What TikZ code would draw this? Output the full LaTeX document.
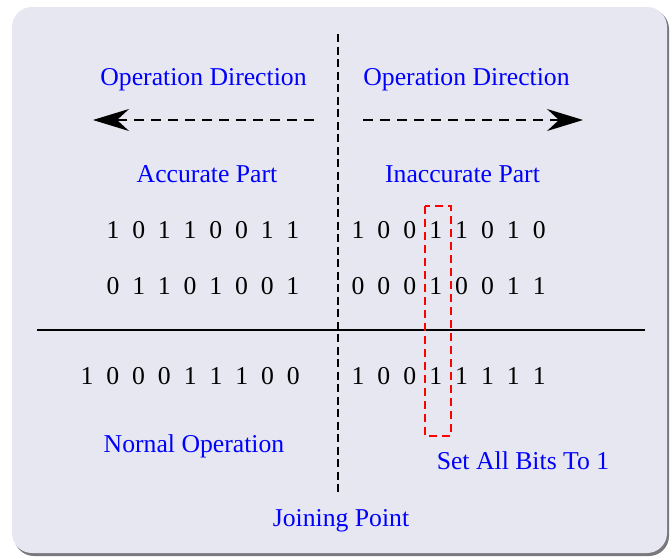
\documentclass[tikz,border=0pt]{standalone}
\usepackage{fontspec}
\setmainfont{Liberation Serif}
\usetikzlibrary{arrows.meta}
\definecolor{panel}{RGB}{231,231,241}
\definecolor{panelshadow}{RGB}{120,120,125}
\begin{document}
\begin{tikzpicture}[x=1pt,y=-1pt,
  label/.style={text=blue,font=\fontsize{25.7}{28}\selectfont,inner sep=0pt,anchor=base},
  bit/.style={font=\fontsize{25.7}{28}\selectfont,inner sep=0pt,anchor=base},
  divider/.style={black,line width=1.3pt,dash pattern=on 8pt off 4.5pt},
  direction/.style={black,line width=1.3pt,dash pattern=on 10pt off 7pt,
    -{Stealth[length=36pt,width=22pt,inset=12pt]}},
  marker/.style={red,line width=1.3pt,dash pattern=on 8pt off 5pt}]
\useasboundingbox (0,0) rectangle (670,557);
% panel with a thin shadow
\fill[panelshadow,rounded corners=20pt] (14,9) rectangle (669,556);
\fill[panel,rounded corners=20pt] (12,7) rectangle (667,553);

% joining point divider
\coordinate (jtop) at (338,34);
\coordinate (jbot) at (338,492);
\draw[divider] (jtop) -- (jbot);

% direction labels and arrows
\node[label] (dirL) at (203.5,85) {Operation Direction};
\node[label] (dirR) at (466.5,85) {Operation Direction};
\coordinate (aLs) at (314,120);
\coordinate (aLe) at (93,120);
\coordinate (aRs) at (363,120);
\coordinate (aRe) at (583,120);
\draw[direction] (aLs) -- (aLe);
\draw[direction] (aRs) -- (aRe);

\node[label] (acc) at (207,182) {Accurate Part};
\node[label] (inacc) at (462.5,182) {Inaccurate Part};

% operands
\foreach \b [count=\i] in {1,0,1,1,0,0,1,1}
  \node[bit] (aL\i) at (113+25.7*\i-25.7,238) {\b};
\foreach \b [count=\i] in {1,0,0,1,1,0,1,0}
  \node[bit] (aR\i) at (358+25.9*\i-25.9,238) {\b};
\foreach \b [count=\i] in {0,1,1,0,1,0,0,1}
  \node[bit] (bL\i) at (113+25.7*\i-25.7,294) {\b};
\foreach \b [count=\i] in {0,0,0,1,0,0,1,1}
  \node[bit] (bR\i) at (358+25.9*\i-25.9,294) {\b};

% sum rule
\coordinate (rL) at (37,330);
\coordinate (rR) at (645,330);
\draw[black,line width=2pt] (rL) -- (rR);

% result
\foreach \b [count=\i] in {1,0,0,0,1,1,1,0,0}
  \node[bit] (sL\i) at (87+25.8*\i-25.8,384) {\b};
\foreach \b [count=\i] in {1,0,0,1,1,1,1,1}
  \node[bit] (sR\i) at (358+25.9*\i-25.9,384) {\b};

% highlighted column
\coordinate (m1) at (425,206);
\coordinate (m2) at (451,436);
\draw[marker] (m1) rectangle (m2);

\node[label] (norm) at (194,452) {Nornal Operation};
\node[label] (setall) at (523,469) {Set All Bits To 1};
\node[label] (join) at (341,526) {Joining Point};
\end{tikzpicture}
\end{document}
